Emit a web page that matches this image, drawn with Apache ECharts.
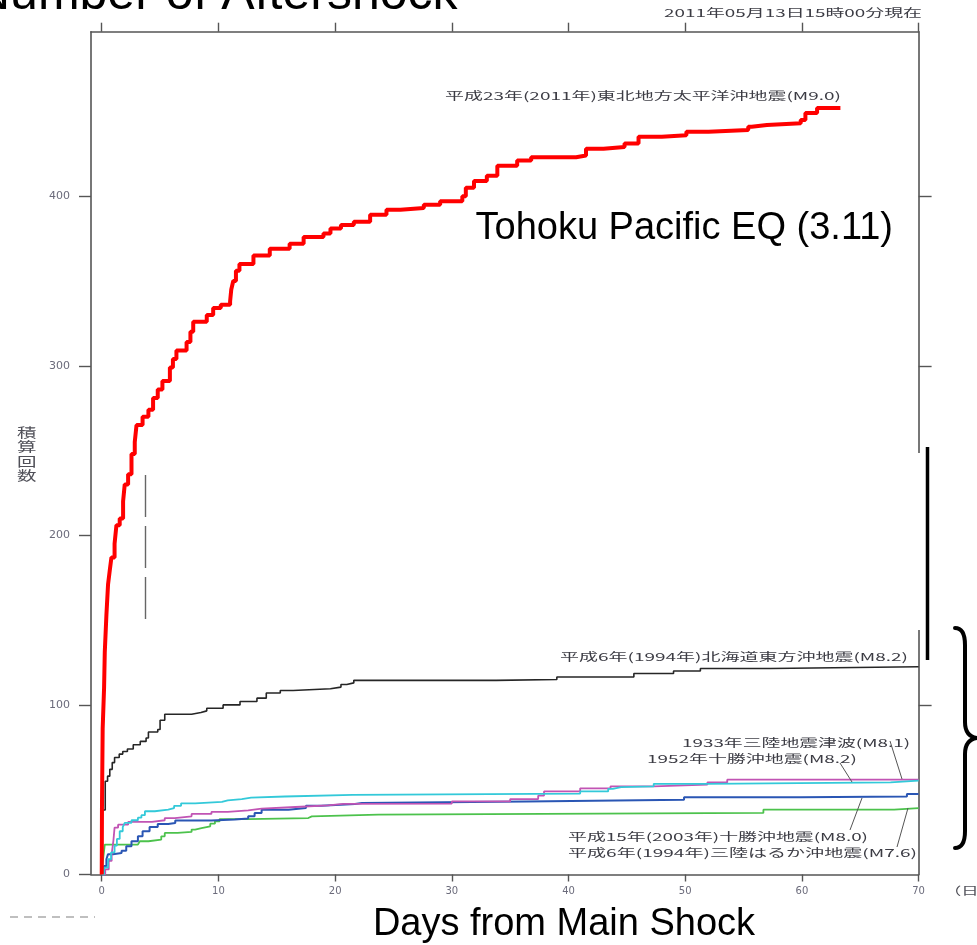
<!DOCTYPE html>
<html><head><meta charset="utf-8">
<script src="https://cdn.jsdelivr.net/npm/echarts@6/dist/echarts.min.js"></script>
<style>html,body{margin:0;padding:0;background:#fff;overflow:hidden}#c{width:977px;height:945px}</style>
</head><body><div id="c"></div>
<script>
// ---- data (days from main shock, cumulative count) ----
const xTicks = [0, 10, 20, 30, 40, 50, 60, 70];
const yTicks = [0, 100, 200, 300, 400];
const yRightTicks = [100, 200, 300, 400];
const seriesNames = [
  '平成23年(2011年)東北地方太平洋沖地震(M9.0)',
  '平成6年(1994年)北海道東方沖地震(M8.2)',
  '1933年三陸地震津波(M8.1)',
  '1952年十勝沖地震(M8.2)',
  '平成15年(2003年)十勝沖地震(M8.0)',
  '平成6年(1994年)三陸はるか沖地震(M7.6)'
];
const tohokuData = [[0,0],[0.02,40],[0.08,86],[0.2,110],[0.26,131],[0.4,153],[0.54,171],[0.7,180],[0.83,187],[1.1,195],[1.26,206],[1.54,210],[1.83,220],[1.97,230],[2.26,236],[2.55,248],[2.83,255],[2.98,265],[3.5,270],[4.0,274],[4.4,281],[4.8,286],[5.2,291],[5.84,299],[6.1,304],[6.4,309],[7.27,314],[7.6,320],[7.84,326],[9.0,330],[9.55,334],[10.2,336],[11.0,338],[11.1,345],[11.27,350],[11.5,356],[11.8,360],[13.0,365],[14.4,369],[16.1,372],[17.3,376],[19.0,378],[19.6,381],[20.5,383],[21.6,385],[23.0,389],[24.4,392],[25.6,393],[27.6,395],[29.0,397],[30.9,400],[31.2,405],[31.9,409],[33.0,412],[33.9,418],[35.6,421],[36.8,423],[40.65,424],[41.5,428],[43.0,429],[44.8,431],[46.0,435],[48.0,436],[50.1,438],[52.0,439],[55.4,441],[55.7,442],[57.0,443],[59.9,445],[60.3,449],[61.3,452],[63.3,452]];
const hokkaidoData = [[0,0],[0.03,10],[0.05,38],[0.3,55],[0.5,58],[0.69,62],[0.9,66],[1.1,69],[1.5,71],[1.8,72.5],[2.2,74],[2.7,76.5],[3.3,78.5],[3.8,80.5],[4.0,84],[4.8,85.5],[5.0,91],[5.4,94.5],[7.7,95.5],[8.5,96.5],[9.0,98],[10.4,100],[11.85,102],[13.3,104],[14.1,107],[15.3,108.5],[16.4,109.5],[19.6,110.5],[20.5,112],[21.0,113],[21.6,114.5],[33.8,115],[39.0,116.5],[45.6,118.5],[49.0,120],[51.3,121.5],[57.3,122.5],[70,122.5]];
const sanriku1933Data = [[0,0],[0.2,4],[0.54,9],[0.8,13],[1.1,17],[1.3,21],[1.54,25.5],[1.8,28],[1.97,30.5],[2.55,32],[3.1,33.5],[3.4,35],[3.7,37.3],[4.55,38.2],[5.7,39.2],[6.2,40.5],[6.8,42],[8.0,42.8],[10.3,43.7],[10.8,44.5],[12.0,45.3],[12.8,46],[15.7,47],[21.5,47.7],[41.0,49],[43.4,50.5],[43.8,51.5],[44.5,52],[47.3,53.5],[51.9,54.3],[67.6,55.3],[70,55.3]];
const tokachi1952Data = [[0,0],[0.3,3],[0.6,8],[0.85,12],[1.0,20],[1.1,27.6],[1.4,29.4],[2.26,31],[4.3,32],[5.4,33.3],[6.26,34.3],[7.7,35.7],[9.4,36.9],[10.8,37.8],[12.55,38.8],[13.7,39.8],[16.6,40.8],[19.4,41.6],[20.7,41.8],[30.0,43.1],[35.0,44.5],[37.4,46.5],[37.9,49],[41.0,50.8],[43.6,52],[47.3,53],[51.9,54.3],[53.6,55.9],[70,55.9]];
const tokachi2003Data = [[0,0],[0.2,5],[0.4,9],[0.54,12],[0.97,12.7],[1.7,14],[2.1,16.7],[2.55,19.6],[3.1,22.5],[3.5,25.5],[4.1,28],[4.8,29.8],[5.7,30.4],[6.3,31.8],[9.4,32.4],[11.4,33],[12.55,34.3],[13.1,36.3],[13.7,38.2],[16.0,39.2],[17.5,40.5],[18.8,41.6],[21.7,42.2],[22.3,43.1],[36.4,44.1],[49.9,45.5],[59.9,46],[69.0,47.4],[70,47.4]];
const sanrikuHaruka1994Data = [[0,0],[0.1,8],[0.26,17.6],[3.1,18.2],[3.26,19.6],[4.0,20.6],[5.1,22.5],[5.4,24.5],[6.5,25.1],[7.7,26.5],[8.0,27.4],[8.55,28.4],[9.3,30],[9.7,31.4],[10.1,32.7],[12.55,33.3],[17.7,34.3],[18.0,35.3],[23.7,36.3],[56.7,38.2],[67.9,39.2],[70,39.2]];

// ---- chart ----
const AX = '#555';
const chart = echarts.init(document.getElementById('c'), null, {renderer: 'canvas'});

const mctx = document.createElement('canvas').getContext('2d');
function stretchedText(text, left, right, cy, font, fill) {
  mctx.font = font;
  const w = mctx.measureText(text).width || 1;
  return {type: 'text', x: left, y: cy, scaleX: (right - left) / w, z: 100,
    style: {text: text, font: font, fill: fill || '#3c3c44', align: 'left', verticalAlign: 'middle',
            textAlign: 'left', textVerticalAlign: 'middle'}};
}
const CJK = '11px "Noto Sans CJK JP"';
const line = (x1, y1, x2, y2, w, c, dash) => ({type: 'line', z: 100, shape: {x1, y1, x2, y2},
  style: {stroke: c, lineWidth: w, lineDash: dash || null, lineCap: 'butt'}});
const bez = (x1, y1, cpx1, cpy1, cpx2, cpy2, x2, y2) => ({type: 'bezierCurve', z: 100,
  shape: {x1, y1, cpx1, cpy1, cpx2, cpy2, x2, y2}, style: {stroke: '#000', lineWidth: 4, fill: null, lineCap: 'round'}});

const axisCommon = {
  axisLine: {show: true, onZero: false, lineStyle: {color: AX, width: 1.6}},
  splitLine: {show: false}
};
const mkSeries = (name, data, color, width, z) => ({
  name: name, type: 'line', step: 'end', data: data, showSymbol: false, symbol: 'none',
  lineStyle: {color: color, width: width}, itemStyle: {color: color}, z: z, silent: true
});

const option = {
  animation: false,
  backgroundColor: '#fff',
  grid: {left: 91, right: 58.4, top: 31.7, bottom: 70.5, containLabel: false},
  xAxis: [
    Object.assign({type: 'value', min: -0.92, max: 70, position: 'bottom',
      axisTick: {show: true, customValues: xTicks, length: 7, lineStyle: {color: AX, width: 1.4}},
      axisLabel: {show: true, customValues: xTicks, fontSize: 10, fontFamily: 'DejaVu Sans', color: '#6b6b7b', margin: 12}
    }, axisCommon),
    Object.assign({type: 'value', min: -0.92, max: 70, position: 'top',
      axisTick: {show: true, customValues: xTicks, length: 9, lineStyle: {color: AX, width: 1.4}},
      axisLabel: {show: false}
    }, axisCommon)
  ],
  yAxis: [
    Object.assign({type: 'value', min: 0, max: 497, position: 'left',
      axisTick: {show: true, customValues: yTicks, length: 12, lineStyle: {color: AX, width: 1.4}},
      axisLabel: {show: true, customValues: yTicks, fontSize: 11, fontFamily: 'DejaVu Sans', color: '#6b6b7b', margin: 21}
    }, axisCommon),
    Object.assign({type: 'value', min: 0, max: 497, position: 'right',
      axisTick: {show: true, customValues: yRightTicks, length: 13, lineStyle: {color: AX, width: 1.4}},
      axisLabel: {show: false}
    }, axisCommon)
  ],
  series: [
    mkSeries(seriesNames[1], hokkaidoData, '#262626', 1.6, 3),
    mkSeries(seriesNames[5], sanrikuHaruka1994Data, '#4cc24c', 1.8, 3),
    mkSeries(seriesNames[4], tokachi2003Data, '#2a56b4', 2, 3),
    mkSeries(seriesNames[3], tokachi1952Data, '#c154b4', 1.8, 3),
    mkSeries(seriesNames[2], sanriku1933Data, '#33c9d9', 1.8, 3),
    mkSeries(seriesNames[0], tohokuData, '#ff0000', 4, 4)
  ],
  graphic: [
    // title (cut at top of picture)
    {type: 'text', x: -26, y: -5, z: 100, style: {text: 'Number of Aftershock', font: '50px "Liberation Sans"', fill: '#000', align: 'left', verticalAlign: 'middle', textAlign: 'left', textVerticalAlign: 'middle'}},
    stretchedText('2011年05月13日15時00分現在', 664, 922, 13, CJK),
    stretchedText(seriesNames[0], 445, 841, 96, CJK),
    stretchedText(seriesNames[1], 560, 908, 657, CJK),
    stretchedText(seriesNames[2], 682, 910, 743, CJK),
    stretchedText(seriesNames[3], 647, 857, 759, CJK),
    stretchedText(seriesNames[4], 568, 868, 837, CJK),
    stretchedText(seriesNames[5], 568, 917, 853, CJK),
    // y-axis name (vertical)
    {type: 'text', x: 17, y: 425, z: 100, scaleX: 1.5, style: {text: '積\n算\n回\n数', font: '13px "Noto Sans CJK JP"', lineHeight: 14.3, fill: '#505058', align: 'left', verticalAlign: 'top', textAlign: 'left', textVerticalAlign: 'top'}},
    // x unit
    stretchedText('（日）', 944, 996, 891, CJK, '#505058'),
    // leader lines
    line(890, 741, 902, 779, 1, '#555'),
    line(840, 763, 852, 782, 1, '#555'),
    line(850, 830, 862, 798, 1, '#555'),
    line(897, 847, 908, 808, 1, '#555'),
    // slide overlays
    {type: 'text', x: 893, y: 229, z: 100, style: {text: 'Tohoku Pacific EQ (3.11)', font: '38px "Liberation Sans"', fill: '#000', align: 'right', verticalAlign: 'middle', textAlign: 'right', textVerticalAlign: 'middle'}},
    {type: 'text', x: 564, y: 925, z: 100, style: {text: 'Days from Main Shock', font: '38px "Liberation Sans"', fill: '#000', align: 'center', verticalAlign: 'middle', textAlign: 'center', textVerticalAlign: 'middle'}},
    {type: 'rect', z: 99, shape: {x: 912, y: 453, width: 24, height: 177}, style: {fill: '#fff'}},
    line(927.5, 447, 927.5, 660, 3.5, '#000'),
    line(145.5, 475, 145.5, 620, 1.4, '#666', [42, 9]),
    line(10, 917, 95, 917, 1.5, '#aaa', [8, 6]),
    // curly brace
    bez(955, 628, 962, 628, 965, 635, 965, 645),
    line(965, 645, 965, 722, 4, '#000'),
    bez(965, 722, 965, 732, 970, 737, 977, 738),
    bez(977, 738, 970, 739, 965, 744, 965, 754),
    line(965, 754, 965, 831, 4, '#000'),
    bez(965, 831, 965, 841, 962, 848, 955, 848)
  ]
};
chart.setOption(option);
</script>
</body></html>
